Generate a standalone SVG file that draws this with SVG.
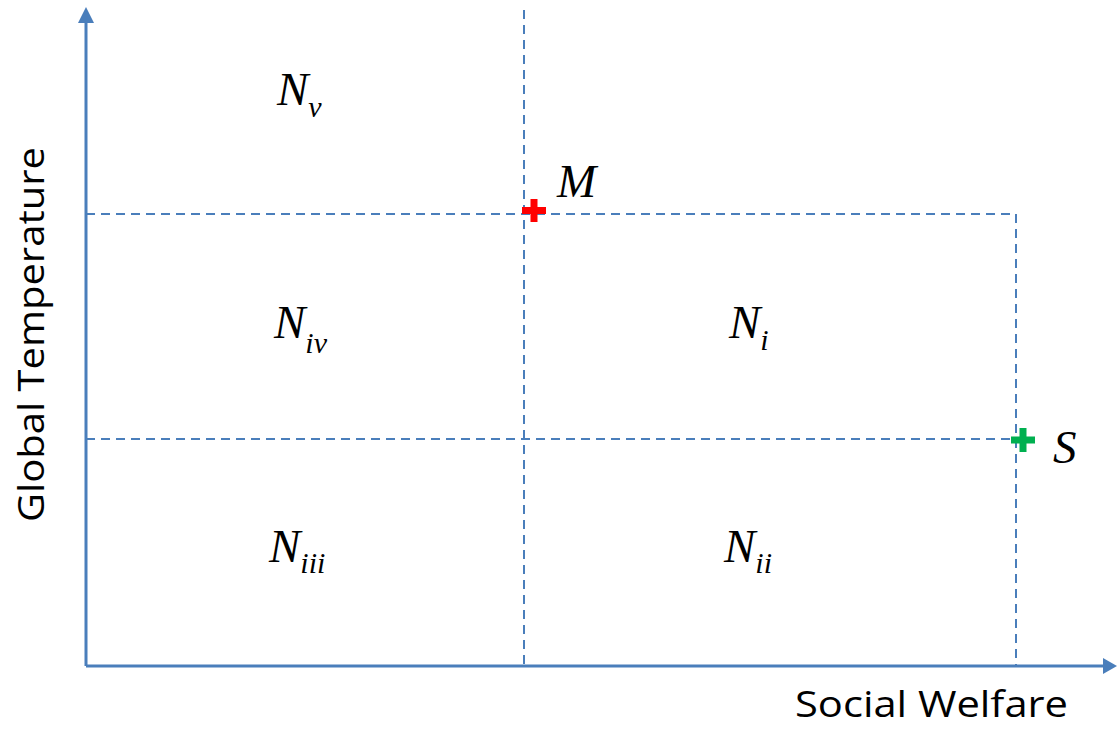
<svg xmlns="http://www.w3.org/2000/svg" width="1117" height="729" viewBox="0 0 1117 729">
<defs>
<style>
.axis{stroke:#4a7ebb;stroke-width:3;fill:none}
.dash{stroke:#4a7ebb;stroke-width:2;fill:none;stroke-dasharray:9 6}
.math{font-family:'Liberation Serif','Times New Roman',serif;font-style:italic;fill:#000}
.big{font-size:47px}
.sub{font-size:30px}
.lbl{font-family:'Open Sans',sans-serif;font-size:36px;fill:#000}
</style>
</defs>
<rect width="1117" height="729" fill="#fff"/>
<g id="axes">
<path class="axis" d="M86,666 L86,20 M86,666 L1104,666"/>
<polygon points="86,7 78,23 94,23" fill="#4a7ebb"/>
<polygon points="1117,666 1103,658 1103,674" fill="#4a7ebb"/>
</g>
<g id="connectors">
<path class="dash" d="M524,10 L524,666"/>
<path class="dash" d="M86,214 L1016,214 L1016,666"/>
<path class="dash" d="M86,439 L1016,439"/>
</g>
<g id="point-M">
<path d="M534,199 V222 M522,210.5 H546" stroke="#ff0000" stroke-width="7" fill="none"/>
<text class="math big" x="557" y="197">M</text>
</g>
<g id="point-S">
<path d="M1023,428 V452 M1011,440 H1035" stroke="#00b050" stroke-width="7" fill="none"/>
<text class="math big" x="1053" y="463">S</text>
</g>
<g id="Nv"><text class="math" x="277" y="105"><tspan class="big">N</tspan><tspan class="sub" dy="12">v</tspan></text></g>
<g id="Niv"><text class="math" x="274" y="338"><tspan class="big">N</tspan><tspan class="sub" dy="15">iv</tspan></text></g>
<g id="Ni"><text class="math" x="729" y="338"><tspan class="big">N</tspan><tspan class="sub" dy="12">i</tspan></text></g>
<g id="Niii"><text class="math" x="269" y="562"><tspan class="big">N</tspan><tspan class="sub" dy="11">iii</tspan></text></g>
<g id="Nii"><text class="math" x="724" y="562"><tspan class="big">N</tspan><tspan class="sub" dy="11">ii</tspan></text></g>
<g id="y-label"><text class="lbl" transform="translate(44,522) rotate(-90)" textLength="375" lengthAdjust="spacingAndGlyphs">Global Temperature</text></g>
<g id="x-label"><text class="lbl" x="795" y="717" textLength="273" lengthAdjust="spacingAndGlyphs">Social Welfare</text></g>
</svg>
